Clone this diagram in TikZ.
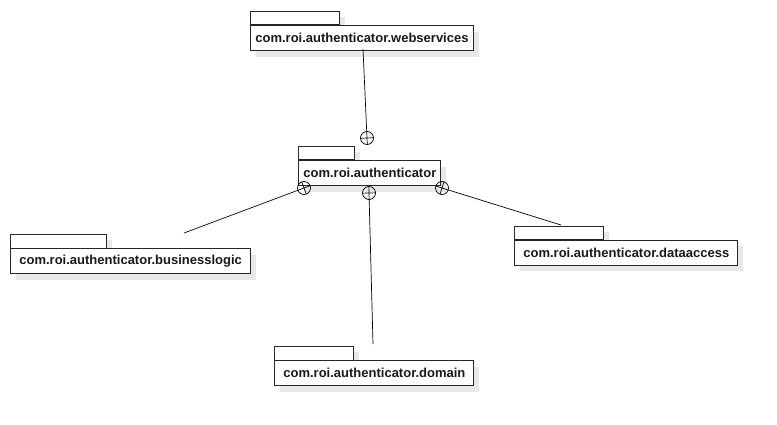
\documentclass[tikz,border=0pt]{standalone}
\usepackage{fontspec}
\setmainfont{Liberation Sans}
\usetikzlibrary{calc,shadows}

\newcommand\pkgfont{\fontsize{13}{15}\selectfont\bfseries}

\tikzset{
  pkgshadow/.style={drop shadow={shadow xshift=6pt, shadow yshift=-6pt,
      fill=black!9, opacity=1}},
  pkgtab/.style={draw=black!85, fill=white, line width=0.8pt, rectangle,
      inner sep=0pt, minimum height=13.5pt, anchor=north west, pkgshadow},
  pkgbody/.style={draw=black!85, fill=white, line width=0.8pt, rectangle,
      minimum height=25pt, inner ysep=0pt, align=left, font=\pkgfont,
      text=black!90, anchor=north west, pkgshadow},
  nestline/.style={draw=black, line width=0.7pt},
}

% package symbol: #1 name, #2 tab corner, #3 body width, #4 tab width,
% #5 text padding, #6 text width, #7 label
\newcommand\umlpkg[7]{%
  \node[pkgtab, minimum width=#4] (#1-tab) at (#2) {};
  \node[pkgbody, minimum width=#3, inner xsep=#5, text width=#6]
    (#1) at (#1-tab.south west) {#7};
}

% nesting connector: line from #1 to an encircled cross centred at #2
\newcommand\nestlink[2]{%
  \draw[nestline] (#1) -- ($(#2)!-6.5pt!(#1)$);
  \draw[nestline] (#2) circle (6.5pt);
  \draw[nestline] ($(#2)!6.5pt!90:(#1)$) -- ($(#2)!6.5pt!-90:(#1)$);
}

\begin{document}
\begin{tikzpicture}[x=1pt,y=-1pt]
  \path[use as bounding box, fill=white] (0,0) rectangle (777,425);

  \umlpkg{ws}{250,11}{223pt}{89pt}{5pt}{213pt}{com.roi.authenticator.webservices}
  \umlpkg{core}{298,146}{142pt}{56pt}{5pt}{132pt}{com.roi.authenticator}
  \umlpkg{bl}{10,234}{240pt}{96pt}{9pt}{222pt}{com.roi.authenticator.businesslogic}
  \umlpkg{da}{514,225.5}{223pt}{89pt}{9pt}{205pt}{com.roi.authenticator.dataaccess}
  \umlpkg{dom}{274,346}{199pt}{79pt}{9pt}{181pt}{com.roi.authenticator.domain}

  % free ends of the connectors
  \coordinate (wsEnd)  at (363,49);
  \coordinate (blEnd)  at (184,233);
  \coordinate (daEnd)  at (561,225);
  \coordinate (domEnd) at (373,344);

  % encircled crosses on the owning package
  \coordinate (cTop)   at (367,138);
  \coordinate (cLeft)  at (304,188);
  \coordinate (cMid)   at (369,193);
  \coordinate (cRight) at (442,188);

  \nestlink{wsEnd}{cTop}
  \nestlink{blEnd}{cLeft}
  \nestlink{domEnd}{cMid}
  \nestlink{daEnd}{cRight}
\end{tikzpicture}
\end{document}
